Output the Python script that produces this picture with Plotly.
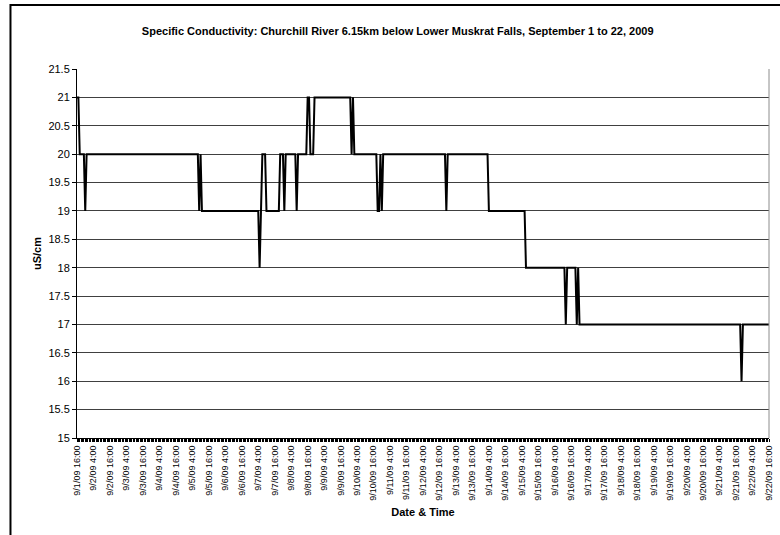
import pandas as pd
import plotly.graph_objects as go

# Hourly logger readings, stored as change points: the reading holds from
# each start hour (hours after 9/1/09 16:00) until the next start hour.
run_start_hours = [0, 2, 6, 7, 89, 90, 91, 133, 134, 135,
                   138, 148, 151, 152, 160, 161, 168, 170, 173, 200,
                   201, 202, 219, 221, 222, 223, 269, 270, 300, 327,
                   356, 357, 364, 365, 366, 484, 485]
run_values = [21, 20, 19, 20, 19, 20, 19, 18, 19, 20,
              19, 20, 19, 20, 19, 20, 21, 20, 21, 20,
              21, 20, 19, 20, 19, 20, 19, 20, 19, 18,
              17, 18, 17, 18, 17, 16, 17]
last_hour = 504
start_time = "2009-09-01 16:00"

y_ticks = [15, 15.5, 16, 16.5, 17, 17.5, 18, 18.5, 19, 19.5, 20, 20.5, 21, 21.5]
y_tick_text = ["15", "15.5", "16", "16.5", "17", "17.5", "18", "18.5",
               "19", "19.5", "20", "20.5", "21", "21.5"]

title_text = ("Specific Conductivity: Churchill River 6.15km below Lower "
              "Muskrat Falls, September 1 to 22, 2009")

# expand the runs to one reading per hour
conductivity = []
bounds = run_start_hours[1:] + [last_hour + 1]
for s, e, v in zip(run_start_hours, bounds, run_values):
    conductivity.extend([v] * (e - s))

times = pd.date_range(start_time, periods=last_hour + 1, freq="h")

# category labels every 12 hours, e.g. "9/2/09 4:00"
label_times = times[::12]
tick_labels = [f"{t.month}/{t.day}/{t:%y} {t.hour}:00" for t in label_times]

FONT = "Liberation Sans, Arial, sans-serif"

fig = go.Figure()
fig.add_trace(go.Scatter(
    x=times, y=conductivity, mode="lines",
    line=dict(color="black", width=2),
    showlegend=False,
))

# plot-area geometry in pixels (used to place the outer chart border)
W, H = 780, 535
ML, MR, MT, MB = 77, 6, 69, 97
pw, ph = W - ML - MR, H - MT - MB


def px_x(p):
    return (p - ML) / pw


def px_y(p):
    return (H - MB - p) / ph


fig.update_layout(
    width=W, height=H,
    margin=dict(l=ML, r=MR, t=MT, b=MB),
    paper_bgcolor="white", plot_bgcolor="white",
    font=dict(family=FONT, color="black"),
    title=dict(text=f"<b>{title_text}</b>", font=dict(size=11, family=FONT),
               x=px_x(400), xref="paper", xanchor="center",
               y=1 - 31 / H, yanchor="middle"),
    xaxis=dict(
        range=[times[0], times[-1]],
        tickmode="array", tickvals=list(label_times), ticktext=tick_labels,
        tickangle=-90, tickfont=dict(size=9, family=FONT),
        ticks="outside", ticklen=3, tickcolor="black",
        minor=dict(tickmode="linear", tick0=times[0], dtick=3600000,
                   ticks="outside", ticklen=3, tickcolor="black",
                   showgrid=False),
        showgrid=False, zeroline=False,
        showline=True, linecolor="black", linewidth=1,
        title=dict(text="<b>Date & Time</b>", font=dict(size=11, family=FONT),
                   standoff=8),
    ),
    yaxis=dict(
        range=[15, 21.5],
        tickmode="array", tickvals=y_ticks, ticktext=y_tick_text,
        tickfont=dict(size=11, family=FONT),
        ticks="outside", ticklen=4, tickcolor="black",
        showgrid=True, gridcolor="#404040", gridwidth=1,
        zeroline=False,
        showline=True, linecolor="black", linewidth=1,
        title=dict(text="<b>uS/cm</b>", font=dict(size=11, family=FONT),
                   standoff=4),
    ),
    shapes=[
        # right edge of the plot area
        dict(type="line", xref="paper", yref="paper", x0=1, x1=1, y0=0, y1=1,
             line=dict(color="#8c8c8c", width=1)),
        # outer chart-area border
        dict(type="rect", xref="paper", yref="paper",
             x0=px_x(10), x1=px_x(W + 20), y0=px_y(H + 20), y1=px_y(5),
             line=dict(color="black", width=2), fillcolor="rgba(0,0,0,0)",
             layer="above"),
    ],
)

fig.write_html("out.html")
